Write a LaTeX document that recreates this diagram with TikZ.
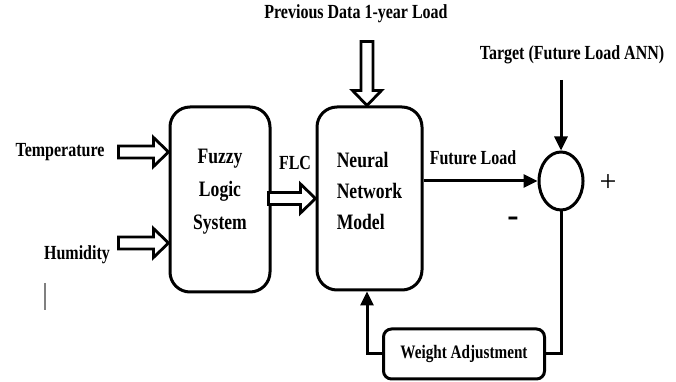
\documentclass[tikz,border=0pt]{standalone}
\usepackage{fontspec}
\setmainfont{Liberation Serif}
\newfontfamily\narrowfont{Liberation Serif}[FakeStretch=0.8]
\usetikzlibrary{positioning, arrows.meta, shapes.geometric}

\begin{document}
\begin{tikzpicture}[x=1pt, y=1pt,
    box/.style={draw, line width=3pt, rounded corners=20pt, align=center, inner sep=0pt,
                font=\narrowfont\bfseries\fontsize{22}{31}\selectfont},
    lbl/.style={font=\narrowfont\bfseries\fontsize{20}{22}\selectfont, inner sep=0pt},
    sig/.style={line width=3pt, -{Triangle[length=14pt,width=13pt]}},
    pics/blockarr/.style={code={
        \draw[line width=2.8pt, line join=miter, fill=white]
            (0,0) -- (-15,-14.5) -- (-15,-6) -- (-#1,-6) -- (-#1,6) -- (-15,6) -- (-15,14.5) -- cycle;
    }}]
    \useasboundingbox (0,0) rectangle (676,382);

    % Blocks
    \node[box, text depth=21pt, font=\narrowfont\bfseries\fontsize{22}{33}\selectfont,
          minimum width=100, minimum height=185] (fuzzy) at (220,182.5) {Fuzzy\\Logic\\System};
    \node[box, align=left, text depth=15pt, minimum width=105, minimum height=183] (neural) at (369.5,183.5) {Neural\\Network\\Model};
    \node[draw, ellipse, line width=3pt, minimum width=44, minimum height=58, inner sep=0pt] (sum) at (561,201) {};
    \node[box, rounded corners=8pt, minimum width=161, minimum height=50,
          font=\narrowfont\bfseries\fontsize{19}{22}\selectfont] (weight) at (464,28) {Weight Adjustment};

    % Labels
    \node[lbl] (temp) at (60,230) {Temperature};
    \node[lbl] (hum) at (77,127) {Humidity};
    \node[lbl] (flc) at (295,219) {FLC};
    \node[lbl] (prev) at (356,368) {Previous Data 1-year Load};
    \node[lbl] (target) at (572,327) {Target (Future Load ANN)};
    \node[lbl] (future) at (473,224) {Future Load};
    \node[font=\fontsize{30}{30}\selectfont, inner sep=0pt] (plus) at (608,199) {+};
    \node[font=\bfseries\fontsize{34}{34}\selectfont, inner sep=0pt] (minus) at (513,160) {-};
    \coordinate (tgt) at (561,302);

    % Hollow input arrows
    \pic at (fuzzy.west |- temp) {blockarr=50};
    \pic at ([yshift=12pt]fuzzy.west |- hum) {blockarr=50};
    \pic at (neural.west) {blockarr=47};
    \pic[rotate=-90] at ([xshift=-2.5pt]neural.north) {blockarr=64};

    % Signal lines
    \draw[sig] (neural.east |- sum.west) -- (sum.west);
    \draw[sig] (tgt) -- (sum.north);
    \draw[line width=3pt] (sum.south) |- (weight.east);
    \draw[sig] (weight.west) -| ([xshift=-2.5pt]neural.south);

    \draw[gray, line width=1.2pt] (45,99) -- (45,72);
\end{tikzpicture}
\end{document}
